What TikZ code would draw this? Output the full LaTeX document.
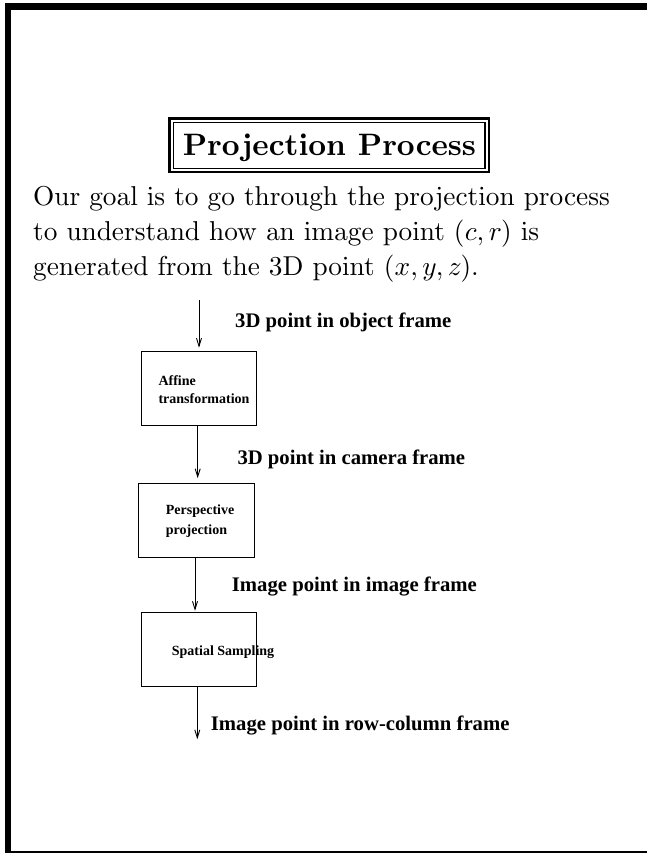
\documentclass[tikz,border=0pt]{standalone}
\usepackage{fontspec}
\usetikzlibrary{arrows.meta}
\newfontfamily\lblfont{Liberation Serif}
\font\bodyrm=cmr10 at 27.3pt
\font\bodymi=cmmi10 at 27.3pt
\font\titlebf=cmbx10 at 31pt
\newcommand\mv[1]{{\bodymi #1}}
\newcommand\mcomma{{\bodymi\char59}\kern4.55pt}
\tikzset{
  stepbox/.style={draw, line width=0.9pt, rectangle, inner sep=0pt, anchor=north west},
  boxtxt/.style={anchor=base west, inner sep=0pt, font=\lblfont\bfseries\fontsize{14}{16}\selectfont},
  lbltxt/.style={anchor=base west, inner sep=0pt, font=\lblfont\bfseries\fontsize{20.7}{24}\selectfont},
  bodytxt/.style={anchor=base west, inner sep=0pt, font=\bodyrm},
  flow/.style={line width=0.9pt, -{Straight Barb[length=8pt,width=5pt,line width=0.9pt]}}
}
\begin{document}
\begin{tikzpicture}[x=1pt,y=-1pt]
\useasboundingbox (0,0) rectangle (647,853);
% page frame
\fill (5,3) rectangle (11,853);
\fill (5,3) rectangle (647,10);
\fill (11,850.8) rectangle (647,853);
% title
\node[font=\titlebf, inner sep=0pt, anchor=base] (title) at (329.5,156) {Projection Process};
\draw[line width=2.5pt] (169.5,118.3) rectangle (489.2,172.2);
\draw[line width=1.3pt] (173.4,122.2) rectangle (485,168.3);
% body
\node[bodytxt] (t1) at (33,205) {Our goal is to go through the projection process};
\node[bodytxt] (t2) at (33,240) {to understand how an image point (\mv{c}\mcomma\mv{r}) is};
\node[bodytxt] (t3) at (33,275) {generated from the 3D point (\mv{x}\mcomma\mv{y}\mcomma\mv{z}).};
% boxes
\node[stepbox, minimum width=115.3pt, minimum height=74.6pt] (b1) at (140.7,350.7) {};
\node[stepbox, minimum width=116pt, minimum height=74pt] (b2) at (138.3,482.7) {};
\node[stepbox, minimum width=115.3pt, minimum height=73.7pt] (b3) at (140.7,612.3) {};
\node[boxtxt] (b1a) at (158.3,385) {Affine};
\node[boxtxt] (b1b) at (158.3,403.7) {transformation};
\node[boxtxt] (b2a) at (165.7,514.5) {Perspective};
\node[boxtxt] (b2b) at (165.7,534.8) {projection};
\node[boxtxt] (b3a) at (171.7,655.7) {Spatial Sampling};
% labels
\node[lbltxt] (l1) at (235,327.3) {3D point in object frame};
\node[lbltxt] (l2) at (237.3,464.5) {3D point in camera frame};
\node[lbltxt] (l3) at (231.7,591.7) {Image point in image frame};
\node[lbltxt] (l4) at (210.7,730) {Image point in row-column frame};
% connectors
\coordinate (s1) at (199,300);
\coordinate (s2) at (197.7,0);
\coordinate (s3) at (195,0);
\coordinate (e4) at (197.3,739.3);
\draw[flow, shorten >=3pt] (s1) -- (s1 |- b1.north);
\draw[flow, shorten >=4.5pt] (s2 |- b1.south) -- (s2 |- b2.north);
\draw[flow, shorten >=1.5pt] (s3 |- b2.south) -- (s3 |- b3.north);
\draw[flow] (e4 |- b3.south) -- (e4);
\end{tikzpicture}
\end{document}
